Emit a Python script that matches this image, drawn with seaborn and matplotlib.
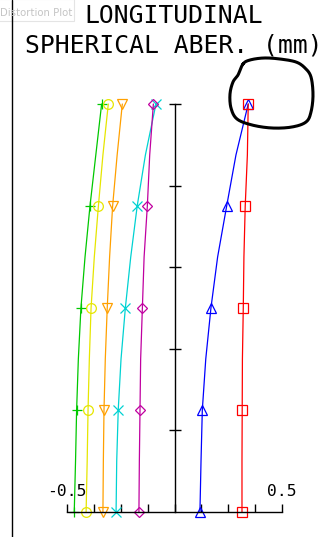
import numpy as np
import pandas as pd
import matplotlib
matplotlib.use("Agg")
import matplotlib.pyplot as plt
from matplotlib.lines import Line2D
from matplotlib.patches import Rectangle
import seaborn as sns

# ---------------- data ----------------
pupil = [0.0, 0.125, 0.25, 0.375, 0.5, 0.625, 0.75, 0.875, 1.0]
green   = [-0.465, -0.459, -0.454, -0.446, -0.434, -0.415, -0.392, -0.365, -0.338]
yellow  = [-0.410, -0.405, -0.401, -0.395, -0.387, -0.372, -0.353, -0.332, -0.307]
orange  = [-0.332, -0.330, -0.327, -0.321, -0.312, -0.301, -0.287, -0.266, -0.242]
cyan    = [-0.271, -0.268, -0.261, -0.248, -0.228, -0.203, -0.173, -0.135, -0.086]
magenta = [-0.165, -0.163, -0.160, -0.157, -0.149, -0.141, -0.126, -0.115, -0.098]
blue    = [0.118, 0.123, 0.129, 0.145, 0.169, 0.200, 0.242, 0.285, 0.342]
red     = [0.313, 0.313, 0.314, 0.315, 0.319, 0.322, 0.328, 0.338, 0.342]

series_names = ["green", "yellow", "orange", "cyan", "magenta", "blue", "red"]
series_vals = [green, yellow, orange, cyan, magenta, blue, red]
series_colors = ["#00c800", "#e6e600", "#ffa000", "#00d2d2", "#c000a0", "#0000ff", "#ff0000"]
series_markers = ["+", "o", "v", "x", "D", "^", "s"]
series_msize = [7, 7, 7, 7, 5.2, 7, 7]

xticks = [-0.5, -0.375, -0.25, -0.125, 0.0, 0.125, 0.25, 0.375, 0.5]
yticks = [0.2, 0.4, 0.6, 0.8, 1.0]
xlabels = {-0.5: "-0.5", 0.5: "0.5"}
title1 = "LONGITUDINAL"
title2 = "SPHERICAL ABER. (mm)"
tab_label = "Distortion Plot"

# ---------------- figure ----------------
sns.set_theme(style="white")
plt.rcParams["font.family"] = ["DejaVu Sans Mono", "DejaVu Sans"]

W, H = 327, 537
fig = plt.figure(figsize=(W / 100, H / 100), dpi=100)
fig.patch.set_facecolor("white")
ax = fig.add_axes([66.7 / W, 25 / H, 215.6 / W, 408 / H])
ax.set_facecolor("none")

rows = []
for name, vals in zip(series_names, series_vals):
    for p, v in zip(pupil, vals):
        rows.append({"series": name, "pupil": p, "aber": v})
df = pd.DataFrame(rows)

for name, col, mk, ms in zip(series_names, series_colors, series_markers, series_msize):
    sub = df[df["series"] == name]
    sns.lineplot(data=sub, x="aber", y="pupil", orient="y", sort=False,
                 color=col, lw=0.9, ax=ax, clip_on=False)
    msub = sub[np.isclose((sub["pupil"] * 4) % 1, 0)]
    ax.plot(msub["aber"], msub["pupil"], ls="none", marker=mk, mfc="none",
            mec=col, ms=ms, mew=0.9, clip_on=False)

ax.set_xlim(-0.5, 0.5)
ax.set_ylim(0, 1)
ax.set_xlabel("")
ax.set_ylabel("")
for s in ["top", "right"]:
    ax.spines[s].set_visible(False)
ax.spines["left"].set_position(("data", 0))
for s in ["left", "bottom"]:
    ax.spines[s].set_color("black")
    ax.spines[s].set_linewidth(1.0)
ax.set_xticks(xticks)
ax.set_yticks(yticks)
ax.tick_params(axis="x", direction="in", length=5.8, width=1.0, color="black",
               labelbottom=False, bottom=True)
ax.tick_params(axis="y", direction="inout", length=8.6, width=1.0, color="black",
               labelleft=False, left=True)

for xv, lab in xlabels.items():
    ax.text(xv, 0.039, lab, ha="center", va="baseline", fontsize=11.8,
            color="black", family="DejaVu Sans Mono")

fig.text(174 / W, 1 - 23 / H, title1, ha="center", va="baseline",
         fontsize=17.8, color="black", family="DejaVu Sans Mono")
fig.text(174 / W, 1 - 52.5 / H, title2, ha="center", va="baseline",
         fontsize=17.8, color="black", family="DejaVu Sans Mono")

# window border on the left
fig.add_artist(Line2D([12.3 / W, 12.3 / W], [0, 1], transform=fig.transFigure,
                      color="black", lw=1.0))
# faded tab label
fig.add_artist(Rectangle((-2 / W, 1 - 21 / H), 76 / W, 22 / H, transform=fig.transFigure,
                         fill=False, edgecolor="#e4e4e4", lw=0.8))
fig.text(72 / W, 1 - 15.5 / H, tab_label, ha="right", va="baseline", fontsize=7.3,
         color="#c4c4c4", family="DejaVu Sans")

# hand-drawn circle annotation
pts = np.array([(243, 64), (250, 60), (264, 58), (280, 59), (296, 62), (305, 68),
                (311, 77), (313, 95), (311, 112), (306, 122), (292, 127), (272, 128),
                (252, 125), (237, 119), (231, 108), (230, 94), (233, 82), (238, 75)], float)
n = len(pts)
curve = []
for i in range(n):
    p0, p1, p2, p3 = pts[(i - 1) % n], pts[i], pts[(i + 1) % n], pts[(i + 2) % n]
    for t in np.linspace(0, 1, 12, endpoint=False):
        t2, t3 = t * t, t * t * t
        curve.append(0.5 * ((2 * p1) + (-p0 + p2) * t + (2 * p0 - 5 * p1 + 4 * p2 - p3) * t2
                            + (-p0 + 3 * p1 - 3 * p2 + p3) * t3))
curve.append(curve[0])
curve = np.array(curve)
fig.add_artist(Line2D(curve[:, 0] / W, 1 - curve[:, 1] / H, transform=fig.transFigure,
                      color="black", lw=2.2, solid_capstyle="round", solid_joinstyle="round"))

fig.savefig("out.png", dpi=100)
